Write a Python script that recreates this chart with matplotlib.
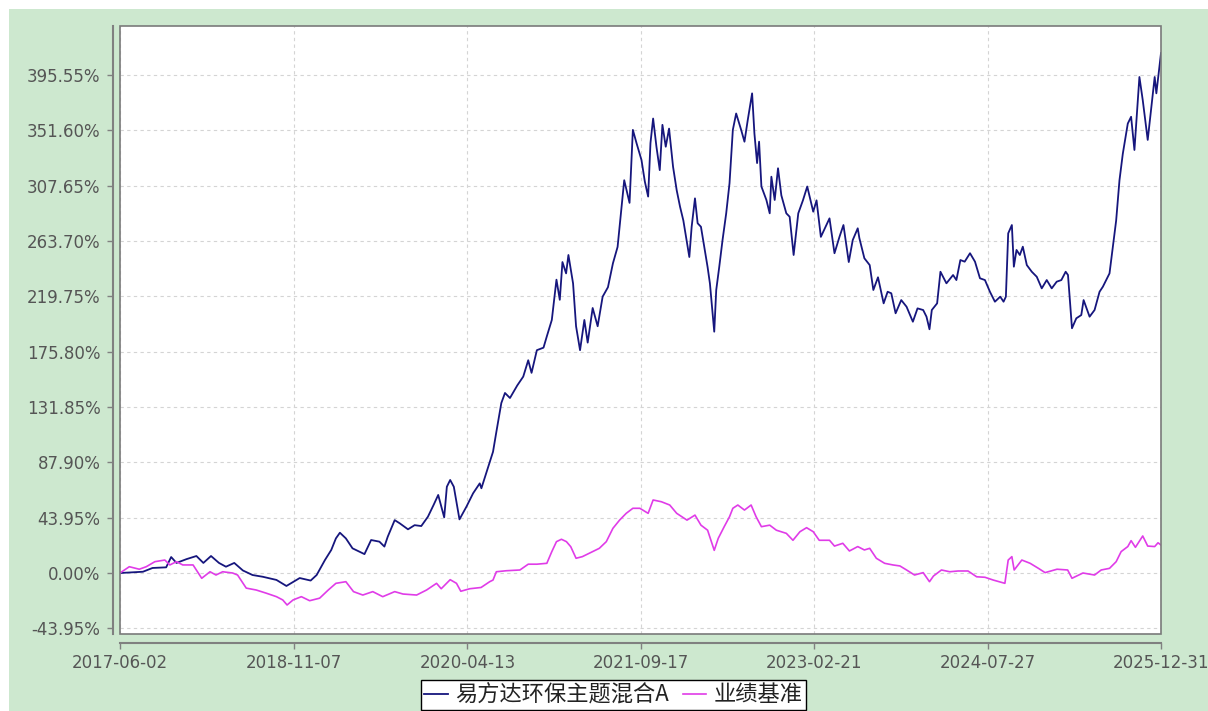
import matplotlib
matplotlib.use('Agg')
import matplotlib.pyplot as plt
from matplotlib.patches import Rectangle
import pandas as pd

fund_name = '易方达环保主题混合A'
bench_name = '业绩基准'

# 累计收益率 (%)
fund_dates = [
    '2017-06-02', '2017-08-10', '2017-09-08', '2017-10-19', '2017-11-03', '2017-11-19',
    '2017-12-19', '2018-01-18', '2018-02-08', '2018-03-03', '2018-03-27', '2018-04-17',
    '2018-05-12', '2018-06-07', '2018-07-06', '2018-08-06', '2018-09-16', '2018-10-16',
    '2018-11-15', '2018-11-25', '2018-12-28', '2019-01-15', '2019-02-09', '2019-02-28',
    '2019-03-14', '2019-03-26', '2019-04-13', '2019-05-03', '2019-05-23', '2019-06-08',
    '2019-06-28', '2019-07-23', '2019-08-07', '2019-08-17', '2019-09-07', '2019-09-22',
    '2019-10-17', '2019-11-06', '2019-11-26', '2019-12-16', '2020-01-02', '2020-01-16',
    '2020-02-03', '2020-02-11', '2020-02-21', '2020-03-03', '2020-03-20', '2020-04-10',
    '2020-04-30', '2020-05-20', '2020-05-25', '2020-06-10', '2020-06-29', '2020-07-09',
    '2020-07-24', '2020-08-04', '2020-08-19', '2020-09-10', '2020-09-28', '2020-10-13',
    '2020-10-23', '2020-11-08', '2020-11-28', '2020-12-08', '2020-12-23', '2021-01-06',
    '2021-01-16', '2021-01-24', '2021-02-04', '2021-02-11', '2021-02-25', '2021-03-06',
    '2021-03-18', '2021-03-31', '2021-04-10', '2021-04-25', '2021-05-10', '2021-05-25',
    '2021-06-10', '2021-06-25', '2021-07-09', '2021-07-19', '2021-07-29', '2021-08-14',
    '2021-08-24', '2021-09-04', '2021-09-19', '2021-09-29', '2021-10-09', '2021-10-16',
    '2021-10-24', '2021-11-03', '2021-11-13', '2021-11-21', '2021-12-01', '2021-12-11',
    '2021-12-23', '2022-01-03', '2022-01-13', '2022-01-23', '2022-02-10', '2022-02-17',
    '2022-02-27', '2022-03-07', '2022-03-17', '2022-03-27', '2022-04-06', '2022-04-13',
    '2022-04-26', '2022-05-02', '2022-05-11', '2022-05-21', '2022-06-01', '2022-06-11',
    '2022-06-21', '2022-07-01', '2022-07-16', '2022-07-26', '2022-08-05', '2022-08-18',
    '2022-08-25', '2022-09-02', '2022-09-08', '2022-09-15', '2022-09-30', '2022-10-10',
    '2022-10-15', '2022-10-25', '2022-11-04', '2022-11-14', '2022-11-29', '2022-12-09',
    '2022-12-21', '2023-01-04', '2023-01-18', '2023-01-31', '2023-02-18', '2023-02-28',
    '2023-03-13', '2023-04-08', '2023-04-23', '2023-05-08', '2023-05-20', '2023-06-05',
    '2023-06-17', '2023-07-02', '2023-07-07', '2023-07-22', '2023-08-07', '2023-08-18',
    '2023-09-01', '2023-09-18', '2023-09-30', '2023-10-11', '2023-10-24', '2023-11-10',
    '2023-11-26', '2023-12-15', '2023-12-29', '2024-01-15', '2024-01-25', '2024-02-03',
    '2024-02-10', '2024-02-26', '2024-03-07', '2024-03-25', '2024-04-14', '2024-04-24',
    '2024-05-06', '2024-05-19', '2024-06-04', '2024-06-19', '2024-07-04', '2024-07-19',
    '2024-08-03', '2024-08-18', '2024-09-03', '2024-09-13', '2024-09-20', '2024-09-27',
    '2024-10-08', '2024-10-14', '2024-10-22', '2024-11-01', '2024-11-10', '2024-11-22',
    '2024-12-07', '2024-12-22', '2025-01-06', '2025-01-21', '2025-02-05', '2025-02-20',
    '2025-03-06', '2025-03-19', '2025-03-26', '2025-04-07', '2025-04-20', '2025-05-05',
    '2025-05-12', '2025-05-30', '2025-06-14', '2025-06-29', '2025-07-09', '2025-07-29',
    '2025-08-08', '2025-08-18', '2025-08-28', '2025-09-07', '2025-09-22', '2025-10-02',
    '2025-10-12', '2025-10-27', '2025-11-06', '2025-11-21', '2025-12-02', '2025-12-12',
    '2025-12-17', '2025-12-31',
]
fund_values = [
    0.0, 1.0, 4.0, 4.5, 12.7, 8.0,
    11.0, 13.5, 8.0, 13.5, 8.0, 5.0,
    8.0, 2.0, -1.6, -3.0, -5.5, -10.3,
    -5.5, -4.0, -6.0, -1.6, 10.3, 18.3,
    27.5, 32.0, 27.5, 19.6, 17.0, 15.0,
    26.2, 24.9, 21.0, 28.8, 42.0, 39.5,
    34.7, 38.0, 37.3, 44.7, 54.0, 62.0,
    44.2, 68.5, 73.9, 68.5, 42.6, 52.7,
    63.3, 71.2, 67.3, 80.5, 96.3, 112.0,
    135.0, 143.0, 139.0, 149.0, 156.0, 169.0,
    159.0, 177.0, 179.0, 188.0, 201.0, 233.0,
    217.0, 247.0, 238.0, 252.6, 230.0, 196.0,
    177.0, 201.0, 183.0, 210.5, 196.0, 219.5,
    227.0, 246.0, 259.0, 285.7, 312.0, 294.0,
    352.0, 341.5, 328.0, 311.0, 299.0, 341.5,
    361.0, 338.6, 320.0, 356.0, 338.6, 353.0,
    322.7, 304.0, 291.0, 280.0, 251.0, 275.0,
    297.6, 277.8, 275.0, 259.0, 243.0, 230.0,
    191.7, 224.8, 243.0, 264.5, 285.7, 309.6,
    352.0, 365.0, 352.0, 342.6, 360.0, 381.0,
    349.0, 325.6, 342.6, 307.0, 296.3, 285.7,
    314.8, 296.3, 321.5, 300.0, 285.7, 283.0,
    252.6, 285.7, 296.0, 307.0, 287.0, 296.0,
    267.0, 281.7, 254.0, 267.0, 276.4, 247.0,
    264.5, 273.8, 265.9, 250.0, 244.6, 224.8,
    234.9, 214.2, 223.4, 222.2, 206.3, 216.8,
    211.5, 199.6, 210.2, 208.9, 203.6, 193.6,
    208.9, 214.2, 239.3, 230.1, 236.7, 232.7,
    248.6, 247.3, 254.0, 247.3, 234.1, 232.7,
    223.4, 215.5, 219.5, 215.5, 219.5, 269.8,
    276.4, 243.3, 256.6, 252.6, 259.2, 244.6,
    239.3, 235.3, 226.1, 232.7, 226.1, 231.4,
    232.7, 239.3, 236.7, 194.4, 202.3, 204.9,
    216.8, 203.6, 208.9, 223.4, 227.4, 238.0,
    259.0, 280.0, 312.0, 333.0, 357.0, 362.4,
    336.0, 394.0, 375.7, 344.0, 370.0, 394.0,
    381.0, 413.0,
]

bench_dates = [
    '2017-06-02', '2017-06-30', '2017-07-30', '2017-08-20', '2017-09-15', '2017-10-15', '2017-10-30',
    '2017-11-19', '2017-12-08', '2018-01-08', '2018-02-03', '2018-02-28', '2018-03-18', '2018-04-07',
    '2018-05-07', '2018-05-22', '2018-06-17', '2018-07-17', '2018-08-16', '2018-09-16', '2018-10-05',
    '2018-10-18', '2018-11-05', '2018-11-30', '2018-12-25', '2019-01-24', '2019-02-19', '2019-03-14',
    '2019-04-13', '2019-05-06', '2019-06-03', '2019-07-03', '2019-08-02', '2019-09-07', '2019-10-02',
    '2019-11-12', '2019-12-12', '2020-01-11', '2020-01-25', '2020-02-21', '2020-03-11', '2020-03-24',
    '2020-04-20', '2020-05-24', '2020-06-19', '2020-06-29', '2020-07-09', '2020-08-08', '2020-09-18',
    '2020-10-13', '2020-11-08', '2020-12-08', '2020-12-23', '2021-01-06', '2021-01-21', '2021-02-05',
    '2021-02-18', '2021-03-06', '2021-03-25', '2021-04-25', '2021-05-15', '2021-06-05', '2021-06-25',
    '2021-07-15', '2021-08-04', '2021-08-24', '2021-09-14', '2021-10-09', '2021-10-24', '2021-11-18',
    '2021-12-13', '2022-01-03', '2022-02-03', '2022-02-27', '2022-03-17', '2022-04-06', '2022-04-26',
    '2022-05-08', '2022-05-26', '2022-06-11', '2022-06-21', '2022-07-06', '2022-07-26', '2022-08-15',
    '2022-08-30', '2022-09-15', '2022-10-10', '2022-10-30', '2022-11-29', '2022-12-19', '2023-01-09',
    '2023-01-29', '2023-02-18', '2023-03-08', '2023-04-08', '2023-04-23', '2023-05-18', '2023-06-07',
    '2023-07-02', '2023-07-22', '2023-08-07', '2023-08-27', '2023-09-21', '2023-10-16', '2023-11-06',
    '2023-11-26', '2023-12-20', '2024-01-15', '2024-02-03', '2024-02-15', '2024-03-10', '2024-04-04',
    '2024-04-29', '2024-05-29', '2024-06-24', '2024-07-19', '2024-08-13', '2024-09-17', '2024-09-27',
    '2024-10-08', '2024-10-15', '2024-11-07', '2024-12-02', '2024-12-27', '2025-01-16', '2025-02-21',
    '2025-03-25', '2025-04-07', '2025-05-10', '2025-06-14', '2025-07-04', '2025-07-29', '2025-08-18',
    '2025-09-02', '2025-09-22', '2025-10-02', '2025-10-15', '2025-11-06', '2025-11-21', '2025-12-12',
    '2025-12-22', '2025-12-31',
]
bench_values = [
    0.0, 5.0, 3.0, 5.0, 9.0, 10.3, 6.4,
    9.0, 6.4, 6.4, -4.2, 1.0, -1.6, 1.0,
    0.0, -1.6, -12.0, -13.5, -16.0, -18.8, -21.4,
    -25.4, -21.4, -18.8, -22.0, -20.0, -13.5, -8.2,
    -6.9, -14.8, -17.5, -14.8, -18.8, -14.8, -16.7,
    -17.5, -13.5, -8.2, -12.5, -5.3, -8.2, -14.5,
    -12.5, -11.5, -6.9, -5.6, 1.0, 1.8, 2.4,
    7.0, 7.0, 7.7, 17.0, 24.9, 26.8, 24.9,
    20.9, 11.7, 13.0, 17.0, 19.6, 24.9, 35.5,
    42.0, 47.4, 51.4, 51.4, 47.4, 58.0, 56.6,
    54.0, 47.4, 42.0, 46.0, 38.0, 34.0, 18.0,
    27.5, 36.8, 44.7, 51.4, 54.0, 50.0, 54.0,
    44.7, 36.8, 38.0, 34.0, 31.5, 26.0, 32.8,
    36.0, 32.8, 26.0, 26.0, 21.4, 23.6, 17.5,
    21.0, 18.3, 19.6, 11.7, 7.7, 6.4, 5.6,
    2.4, -1.6, 0.3, -6.9, -2.4, 2.4, 1.0,
    1.6, 1.6, -3.0, -3.4, -5.6, -8.2, 10.3,
    13.0, 2.4, 10.3, 7.7, 3.7, 0.3, 3.0,
    2.4, -4.2, 0.0, -1.6, 2.4, 3.7, 9.0,
    17.0, 21.0, 25.7, 20.4, 29.4, 21.4, 21.0,
    24.0, 22.2,
]

tick_dates = ['2017-06-02', '2018-11-07', '2020-04-13', '2021-09-17', '2023-02-21', '2024-07-27', '2025-12-31']
y_ticks = [-43.95, 0.00, 43.95, 87.90, 131.85, 175.80, 219.75, 263.70, 307.65, 351.60, 395.55]

fig = plt.figure(figsize=(12.08, 7.11), dpi=100, facecolor='white')
fig.patches.append(Rectangle((9 / 1208, 0), 1, 702 / 711, transform=fig.transFigure,
                             facecolor='#cde8cf', edgecolor='none', zorder=-10))

ax = fig.add_axes([120 / 1208, 77 / 711, 1041 / 1208, 608 / 711])
ax.set_facecolor('white')

ax.plot(pd.to_datetime(fund_dates), fund_values, color='#16167d', lw=1.3, label=fund_name, zorder=3)
ax.plot(pd.to_datetime(bench_dates), bench_values, color='#e03ce8', lw=1.2, label=bench_name, zorder=3)

ax.set_xlim(pd.Timestamp(tick_dates[0]), pd.Timestamp(tick_dates[-1]))
ax.set_ylim(-48.45, 434.5)
ax.set_yticks(y_ticks)
ax.set_yticklabels(['%.2f%%' % v for v in y_ticks])
ax.set_xticks(pd.to_datetime(tick_dates))
ax.set_xticklabels(tick_dates)

ax.grid(True, color='#d4d4d4', linestyle=(0, (3, 3)), lw=0.8)
ax.set_axisbelow(True)

# plot box, axis lines pushed outward
ax.spines['top'].set_visible(False)
ax.spines['right'].set_visible(False)
ax.add_patch(Rectangle((0, 0), 1, 1, transform=ax.transAxes, fill=False,
                       edgecolor='#7a7a7a', lw=1.2, clip_on=False, zorder=4))
ax.spines['left'].set_position(('outward', 5))
ax.spines['bottom'].set_position(('outward', 6.5))
for s in ['left', 'bottom']:
    ax.spines[s].set_color('#808080')
    ax.spines[s].set_linewidth(1.5)
ax.tick_params(axis='both', color='#808080', length=4, width=1,
               labelcolor='#555555', labelsize=12)
ax.tick_params(axis='y', pad=5)
ax.tick_params(axis='x', pad=4)

leg = fig.legend(loc='upper center', bbox_to_anchor=(613.5 / 1208, 1 - 680 / 711), ncol=2,
                 frameon=True, fancybox=False, edgecolor='black', framealpha=1,
                 prop={'family': ['Noto Sans CJK SC', 'DejaVu Sans'], 'size': 16},
                 handlelength=1.05, handletextpad=0.35, columnspacing=0.6,
                 borderpad=0.15, borderaxespad=0)
leg.get_frame().set_linewidth(1.0)
for t in leg.get_texts():
    t.set_color('#222222')

fig.savefig('out.png', dpi=100, facecolor=fig.get_facecolor())
